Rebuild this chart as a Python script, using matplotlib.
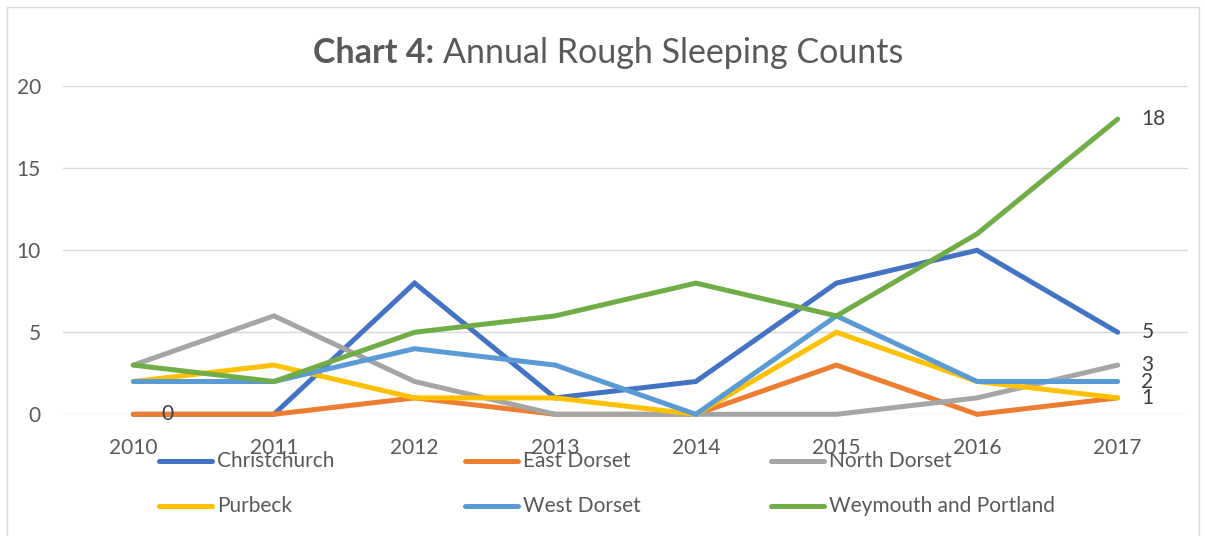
import matplotlib
matplotlib.use("Agg")
import matplotlib.pyplot as plt
from matplotlib.lines import Line2D
from matplotlib.patches import Rectangle

plt.rcParams['font.family'] = ['Lato', 'DejaVu Sans']

# data
years = ['2010', '2011', '2012', '2013', '2014', '2015', '2016', '2017']
christchurch = [0, 0, 8, 1, 2, 8, 10, 5]
east_dorset = [0, 0, 1, 0, 0, 3, 0, 1]
north_dorset = [3, 6, 2, 0, 0, 0, 1, 3]
purbeck = [2, 3, 1, 1, 0, 5, 2, 1]
west_dorset = [2, 2, 4, 3, 0, 6, 2, 2]
weymouth = [3, 2, 5, 6, 8, 6, 11, 18]

series_names = ['Christchurch', 'East Dorset', 'North Dorset',
                'Purbeck', 'West Dorset', 'Weymouth and Portland']
series_values = [christchurch, east_dorset, north_dorset,
                 purbeck, west_dorset, weymouth]
colors = ['#4472C4', '#ED7D31', '#A5A5A5', '#FFC000', '#5B9BD5', '#70AD47']

# data labels shown in the chart: (series index, year index)
labelled_points = [(0, 0), (5, 7), (0, 7), (2, 7), (4, 7), (1, 7)]

W, H = 1205, 536
text_grey = '#595959'


def main():
    fig = plt.figure(figsize=(W / 100, H / 100), dpi=100)
    fig.patch.set_facecolor('white')

    # outer chart frame
    fig.patches.append(Rectangle((7 / W, -0.05), 1192 / W, 1.05 - 7 / H,
                                 transform=fig.transFigure, fill=False,
                                 edgecolor='#D9D9D9', linewidth=1.0))

    ax = fig.add_axes([63 / W, (H - 414.3) / H, 1125 / W, 328 / H])
    x = list(range(len(years)))
    for name, vals, c in zip(series_names, series_values, colors):
        ax.plot(x, vals, color=c, linewidth=3.6, solid_capstyle='round',
                solid_joinstyle='miter', clip_on=False, zorder=3)

    for si, yi in labelled_points:
        v = series_values[si][yi]
        dx = 20 if yi == 0 else 17
        ax.annotate(str(v), (x[yi], v), xytext=(dx, 0),
                    textcoords='offset points', ha='left', va='center',
                    fontsize=15, color='#404040', zorder=4)

    ax.set_xlim(-0.5, 7.5)
    ax.set_ylim(0, 20)
    ax.set_yticks([0, 5, 10, 15, 20])
    ax.set_xticks(x)
    ax.set_xticklabels(years)
    ax.tick_params(axis='both', length=0, labelsize=15, labelcolor=text_grey)
    ax.tick_params(axis='y', pad=16)
    ax.tick_params(axis='x', pad=17)
    ax.grid(axis='y', color='#D9D9D9', linewidth=1.0)
    ax.set_axisbelow(True)
    for s in ax.spines.values():
        s.set_visible(False)

    # title: bold part + regular part
    fig.text(434 / W, 1 - 63 / H, 'Chart 4:', ha='right', va='baseline',
             fontsize=24.5, fontweight='bold', color=text_grey)
    fig.text(443 / W, 1 - 63 / H, 'Annual Rough Sleeping Counts', ha='left',
             va='baseline', fontsize=24.5, color=text_grey)

    # legend, 3 columns x 2 rows
    col_x = [159, 465, 771]
    row_y = [461, 506]
    for i, (name, c) in enumerate(zip(series_names, colors)):
        lx = col_x[i % 3]
        ly = 1 - row_y[i // 3] / H
        fig.add_artist(Line2D([lx / W, (lx + 53) / W], [ly, ly], color=c,
                              linewidth=3.6, solid_capstyle='round',
                              transform=fig.transFigure))
        fig.text((lx + 58) / W, ly, name, ha='left', va='center',
                 fontsize=15, color=text_grey)

    fig.savefig('out.png', dpi=100, facecolor='white')


if __name__ == "__main__":
    main()
